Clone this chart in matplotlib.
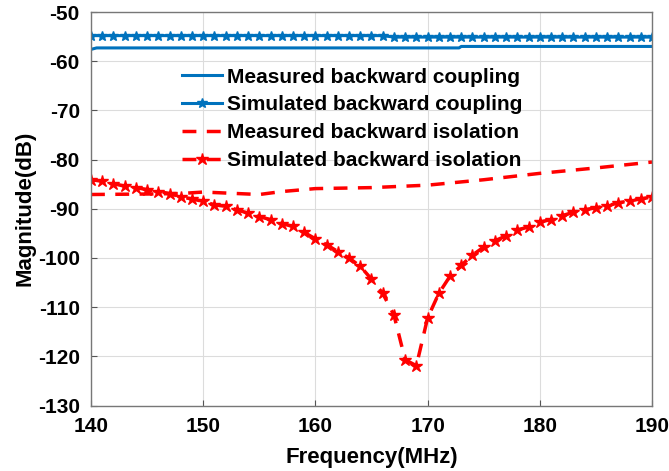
import numpy as np
import matplotlib
matplotlib.use('Agg')
import matplotlib.pyplot as plt

plt.rcParams['font.family'] = ['Liberation Sans', 'DejaVu Sans']
plt.rcParams['font.weight'] = 'bold'
plt.rcParams['axes.unicode_minus'] = False

# 周波数 (MHz)
freq_sim = list(range(140, 191))
freq_meas_iso = [140, 145, 148, 150, 153, 155, 157, 160, 165, 170, 175, 180, 185, 190]
freq_meas_cpl = [140, 140.5, 172.8, 173, 190]

# 結合 (dB)
meas_coupling = [-57.6, -57.3, -57.3, -57.0, -57.0]
sim_coupling = [-54.8] * 27 + [-55.1] * 24

# アイソレーション (dB)
meas_isolation = [-87.1, -87.0, -86.9, -86.6, -86.9, -87.1, -86.5, -85.9,
                  -85.7, -85.2, -84.1, -82.8, -81.7, -80.5]
sim_isolation = [-84.1, -84.4, -84.9, -85.4, -85.7, -86.1, -86.5, -86.9, -87.6, -88.0,
                 -88.5, -89.2, -89.5, -90.2, -90.9, -91.6, -92.2, -93.0, -93.6, -94.8,
                 -96.1, -97.3, -98.7, -100.0, -101.7, -104.3, -107.2, -111.6, -120.7, -121.9,
                 -112.2, -107.2, -103.7, -101.5, -99.4, -97.8, -96.5, -95.5, -94.3, -93.7,
                 -92.7, -92.2, -91.4, -90.7, -90.2, -89.8, -89.4, -88.8, -88.4, -88.0,
                 -87.6]

labels = ['Measured backward coupling', 'Simulated backward coupling',
          'Measured backward isolation', 'Simulated backward isolation']

blue = '#0072BD'
red = '#FF0000'

fig = plt.figure(figsize=(6.69, 4.71), dpi=100)
ax = fig.add_axes([0.136, 0.139, 0.8386, 0.8355])

ax.plot(freq_meas_cpl, meas_coupling, '-', color=blue, lw=2.2, label=labels[0])
ax.plot(freq_sim, sim_coupling, '-', color=blue, lw=2.2, marker='*', ms=7, label=labels[1])
ax.plot(freq_meas_iso, meas_isolation, '--', color=red, lw=2.5, dashes=(4, 3), label=labels[2])
ax.plot(freq_sim, sim_isolation, '--', color=red, lw=2.5, dashes=(4, 3), marker='*', ms=9,
        label=labels[3])

ax.set_xlim(140, 190)
ax.set_ylim(-130, -50)
ax.set_xticks(range(140, 191, 10))
ax.set_yticks(range(-130, -49, 10))
ax.grid(True, color='#dcdcdc', lw=0.8)
ax.tick_params(direction='in', labelsize=15, color='#555555', length=4)
ax.tick_params(axis='y', pad=8)
ax.tick_params(axis='x', pad=8)
for s in ax.spines.values():
    s.set_color('#777777')
    s.set_linewidth(1.0)
for t in ax.get_xticklabels() + ax.get_yticklabels():
    t.set_fontweight('bold')

ax.set_xlabel('Frequency(MHz)', fontsize=16, fontweight='bold', labelpad=8)
ax.set_ylabel('Magnitude(dB)', fontsize=16, fontweight='bold', labelpad=2)

leg = ax.legend(loc='upper left', bbox_to_anchor=(0.1475, 0.88), frameon=False,
                prop={'size': 15, 'weight': 'bold'}, handlelength=1.9,
                handletextpad=0.25, labelspacing=0.42, borderaxespad=0)

fig.savefig('out.png', dpi=100)
